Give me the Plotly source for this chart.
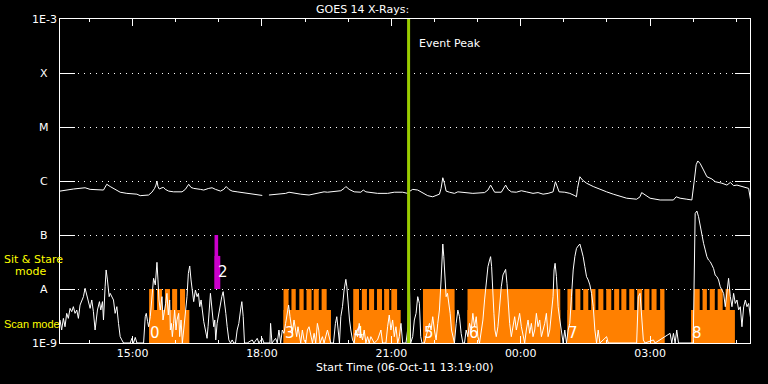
import math
import pandas as pd
import plotly.graph_objects as go

START = "2011-10-06 13:19:00"
END = "2011-10-07 05:19:00"
EVENT_PEAK = "21:24"

# GOES 14 long channel (1-8 A): minutes after start time, flux W/m^2 (None = data gap)
long_min = [0.0, 9.3, 18.6, 34.9, 41.9, 60.5, 65.1, 69.8, 74.4, 79.1, 83.7, 93.0, 107.0, 111.6,
            123.3, 127.9, 131.6, 133.5, 134.9, 136.3, 138.1, 141.9, 144.2, 146.5, 151.2, 158.1,
            169.8, 174.4, 179.1, 182.3, 186.0, 195.3, 200.0, 207.0, 211.6, 216.3, 223.3, 227.9,
            231.2, 234.9, 239.5, 246.5, 253.5, 265.1, 274.4, 281.4, 286.0, 290.7, 302.3, 314.0,
            318.6, 325.6, 334.9, 346.5, 353.5, 360.5, 367.4, 372.1, 381.4, 390.7, 395.3, 397.7,
            402.3, 409.3, 418.6, 421.9, 425.6, 432.6, 441.9, 455.8, 465.1, 476.7, 483.7, 487.0,
            490.7, 497.7, 500.0, 504.7, 511.6, 518.6, 525.6, 527.9, 530.2, 532.6, 534.9, 537.2,
            541.9, 548.8, 553.5, 560.5, 574.4, 590.7, 595.4, 599.1, 602.3, 604.7, 614.0, 617.7,
            620.0, 623.3, 627.9, 634.9, 641.9, 648.8, 658.1, 665.1, 672.1, 679.1, 686.0, 689.3,
            691.6, 694.4, 702.3, 709.3, 716.3, 718.6, 720.0, 723.3, 727.0, 732.6, 741.9, 751.2,
            760.5, 769.8, 779.1, 788.4, 802.3, 807.0, 809.3, 814.0, 821.0, 834.9, 853.5, 857.2,
            862.8, 872.1, 879.1, 882.3, 885.1, 887.4, 890.7, 895.3, 900.0, 907.0, 911.6, 920.9,
            927.9, 932.6, 937.2, 941.9, 948.8, 958.1, 961.9]
long_flux = [6.5e-7, 6.9e-7, 7.1e-7, 7.5e-7, 7.0e-7, 6.8e-7, 8.7e-7, 7.9e-7, 7.3e-7, 6.5e-7, 6.2e-7,
             5.9e-7, 5.7e-7, 5.35e-7, 5.5e-7, 6.2e-7, 7.3e-7, 8.4e-7, 1.0e-6, 7.9e-7, 7.1e-7, 7.5e-7,
             7.6e-7, 7.0e-7, 6.5e-7, 6.3e-7, 6.3e-7, 7.0e-7, 8.7e-7, 7.6e-7, 7.3e-7, 7.0e-7, 6.8e-7,
             7.3e-7, 7.5e-7, 7.0e-7, 6.5e-7, 7.0e-7, 7.9e-7, 7.0e-7, 6.5e-7, 6.3e-7, 6.1e-7, 5.7e-7,
             5.5e-7, 5.4e-7, None, 5.5e-7, 5.7e-7, 5.9e-7, 6.2e-7, 5.9e-7, 5.7e-7, 5.5e-7, 5.7e-7,
             6.1e-7, 6.3e-7, 6.2e-7, 6.3e-7, 6.6e-7, 7.3e-7, 7.9e-7, 7.0e-7, 6.3e-7, 6.2e-7, 6.8e-7,
             6.3e-7, 6.1e-7, 5.9e-7, 5.9e-7, 6.2e-7, 6.2e-7, 5.9e-7, 6.5e-7, 7.0e-7, 6.8e-7, 6.5e-7,
             5.9e-7, 5.35e-7, 5.1e-7, 5.5e-7, 5.7e-7, 7.3e-7, 1.15e-6, 9.1e-7, 6.5e-7, 6.2e-7, 5.9e-7,
             6.3e-7, 6.1e-7, 5.9e-7, 6.1e-7, 6.8e-7, 8.4e-7, 7.0e-7, 6.2e-7, 6.2e-7, 7.3e-7, 8.4e-7,
             7.0e-7, 6.3e-7, 6.2e-7, 6.6e-7, 6.3e-7, 5.9e-7, 6.1e-7, 5.7e-7, 5.9e-7, 6.3e-7, 9.7e-7,
             7.9e-7, 6.3e-7, 6.2e-7, 5.9e-7, 5.35e-7, 5.1e-7, 7.3e-7, 1.2e-6, 1.04e-6, 9.1e-7, 7.9e-7,
             7.0e-7, 6.3e-7, 5.7e-7, 5.3e-7, 4.8e-7, 4.6e-7, 5.1e-7, 6.1e-7, 5.5e-7, 4.8e-7, 4.45e-7,
             4.45e-7, 5.1e-7, 4.8e-7, 4.6e-7, 4.45e-7, 9.7e-7, 2.0e-6, 2.35e-6, 2.1e-6, 1.6e-6, 1.2e-6,
             1.09e-6, 9.7e-7, 9.1e-7, 8.4e-7, 9.4e-7, 8.2e-7, 8.4e-7, 7.9e-7, 7.3e-7, 3.6e-7]

# GOES 14 short channel (0.5-4 A): minutes after start time, flux W/m^2
short_min = [0.0, 2.3, 4.7, 7.0, 9.3, 11.6, 14.0, 16.3, 18.6, 20.9, 23.3, 25.6, 27.9, 30.2, 32.6,
             34.9, 37.2, 39.5, 41.9, 44.2, 46.5, 48.8, 50.2, 52.1, 54.9, 56.7, 59.1, 60.5, 62.8,
             64.2, 66.0, 68.4, 69.8, 72.1, 74.4, 76.7, 79.1, 81.4, 83.7, 86.0, 88.4, 97.7, 100.0,
             102.3, 104.7, 107.0, 116.3, 118.6, 120.0, 121.9, 123.3, 125.6, 127.9, 130.2, 132.6,
             134.9, 136.3, 137.7, 139.5, 141.9, 143.3, 145.1, 147.0, 148.8, 150.7, 152.6, 153.5,
             154.9, 156.3, 158.1, 159.5, 161.4, 162.8, 165.1, 166.5, 168.4, 170.2, 172.1, 174.4,
             176.7, 178.6, 180.5, 182.3, 184.2, 186.0, 188.4, 190.7, 192.6, 194.4, 196.3, 198.1,
             200.0, 202.3, 204.6, 206.0, 207.9, 209.3, 211.6, 213.9, 215.3, 216.7, 218.6, 220.9,
             223.2, 225.1, 227.0, 228.8, 230.7, 232.6, 234.9, 237.2, 239.5, 241.9, 244.2, 246.5,
             248.8, 251.2, 253.0, 254.9, 256.7, 260.5, 267.4, 269.8, 274.4, 276.7, 281.4, 283.7,
             292.1, 293.0, 294.9, 300.0, 302.3, 304.6, 307.0, 309.3, 311.6, 313.9, 316.3, 318.1,
             320.0, 321.8, 323.2, 325.6, 327.4, 329.3, 331.1, 333.0, 334.9, 337.2, 339.5, 341.9,
             344.2, 346.5, 348.8, 351.2, 353.5, 355.8, 358.1, 360.0, 361.8, 365.1, 367.4, 372.1,
             376.7, 380.5, 383.2, 385.1, 387.0, 388.8, 390.7, 393.0, 395.3, 397.7, 399.1, 400.9,
             402.8, 404.6, 407.0, 409.3, 411.6, 413.9, 416.3, 418.6, 420.9, 423.2, 425.6, 427.9,
             430.2, 432.5, 437.2, 441.8, 446.5, 448.8, 453.5, 455.8, 458.1, 460.4, 462.8, 465.1,
             467.4, 469.8, 472.1, 474.4, 476.7, 479.1, 481.4, 484.2, 486.1, 487.9, 490.7, 493.0,
             495.4, 497.7, 500.0, 501.9, 503.7, 507.0, 509.3, 511.6, 514.0, 516.3, 518.6, 520.9,
             523.3, 525.6, 527.9, 530.2, 531.6, 532.6, 534.0, 535.8, 537.2, 539.1, 540.9, 542.8,
             544.7, 546.5, 548.8, 551.2, 553.5, 555.8, 558.1, 560.5, 562.8, 565.1, 567.4, 569.8,
             572.1, 574.4, 576.7, 579.1, 581.4, 583.7, 586.0, 588.4, 590.7, 593.0, 595.4, 597.7,
             599.1, 600.5, 602.3, 603.7, 605.1, 607.0, 609.3, 611.6, 614.0, 616.3, 618.6, 620.0,
             621.9, 623.7, 625.6, 627.9, 630.2, 632.6, 634.9, 637.2, 639.5, 641.9, 644.2, 646.5,
             648.8, 651.2, 653.5, 655.8, 658.1, 660.5, 662.8, 665.1, 667.4, 669.8, 672.1, 674.4,
             676.7, 679.1, 681.4, 683.7, 686.0, 687.4, 688.8, 690.7, 693.0, 695.4, 697.7, 700.0,
             702.3, 704.7, 707.0, 709.3, 711.6, 714.0, 716.3, 718.6, 720.9, 723.3, 725.6, 727.9,
             730.2, 732.6, 734.9, 737.2, 739.5, 741.9, 744.2, 746.5, 748.8, 751.2, 760.5, 762.8,
             802.3, 804.6, 807.0, 809.3, 811.6, 813.9, 825.6, 827.9, 848.8, 851.2, 853.5, 855.8,
             858.1, 860.5, 881.0, 883.7, 886.1, 888.4, 890.7, 893.0, 895.4, 897.7, 900.0, 902.3,
             904.7, 907.0, 909.3, 911.6, 914.0, 916.3, 918.6, 920.9, 923.3, 925.6, 927.9, 930.2,
             932.6, 934.9, 937.2, 939.5, 941.9, 944.2, 946.5, 948.8, 951.2, 953.5, 955.8, 958.1,
             960.5, 961.9]
short_flux = [2.67e-9, 1.74e-9, 2.86e-9, 2.0e-9, 3.54e-9, 2.86e-9, 4.38e-9, 3.8e-9, 4.71e-9, 3.54e-9,
              4.08e-9, 2.86e-9, 5.05e-9, 5.83e-9, 7.21e-9, 1.03e-8, 7.74e-9, 5.83e-9, 4.38e-9, 6.26e-9,
              3.8e-9, 1.74e-9, 2.67e-9, 4.08e-9, 5.83e-9, 4.08e-9, 5.83e-9, 2.67e-9, 1.1e-8, 2.25e-8,
              1.47e-8, 7.21e-9, 8.31e-9, 7.21e-9, 6.26e-9, 3.54e-9, 4.71e-9, 2.31e-9, 1.31e-9, 1.14e-9,
              1e-9, 1e-9, 1.22e-9, 1e-9, 1.27e-9, 1e-9, 1e-9, 3.07e-9, 3.54e-9, 2.48e-9, 2.0e-9,
              3.07e-9, 7.21e-9, 1.58e-8, 1.19e-8, 3.12e-8, 1.47e-8, 6.26e-9, 4.08e-9, 7.21e-9, 2.67e-9,
              3.54e-9, 5.43e-9, 8.31e-9, 3.3e-9, 6.26e-9, 1.74e-9, 2.31e-9, 1.31e-9, 2.31e-9, 4.08e-9,
              1.74e-9, 2.67e-9, 3.54e-9, 1.31e-9, 2.67e-9, 1e-9, 1.74e-9, 3.54e-9, 7.21e-9, 1.95e-8,
              2.67e-8, 1.47e-8, 9.58e-9, 5.83e-9, 9.58e-9, 7.21e-9, 8.31e-9, 4.71e-9, 6.26e-9, 3.54e-9,
              2.48e-9, 1.74e-9, 1.22e-9, 2.0e-9, 4.71e-9, 8.31e-9, 4.08e-9, 2.0e-9, 2.67e-9, 1.14e-9,
              2.31e-9, 3.54e-9, 4.71e-9, 7.21e-9, 8.93e-9, 6.26e-9, 3.54e-9, 2.0e-9, 1.14e-9, 1e-9,
              1.14e-9, 1e-9, 1e-9, 1.74e-9, 2.31e-9, 4.08e-9, 5.83e-9, 3.07e-9, 1e-9, 1e-9, 1.14e-9,
              1e-9, 1.22e-9, 1e-9, 1.22e-9, 1e-9, 1e-9, 2.31e-9, 1e-9, 1.22e-9, 1e-9, 1.74e-9, 1e-9,
              1.74e-9, 1.51e-9, 2.31e-9, 3.54e-9, 5.05e-9, 3.07e-9, 2.0e-9, 1.51e-9, 2.67e-9, 1.86e-9,
              1.31e-9, 2.0e-9, 1.51e-9, 1e-9, 1.74e-9, 1.14e-9, 1e-9, 1.74e-9, 2.0e-9, 1.31e-9, 1e-9,
              1.51e-9, 1e-9, 2.31e-9, 1.74e-9, 1e-9, 1.31e-9, 1e-9, 1.74e-9, 1e-9, 1e-9, 2.31e-9,
              3.07e-9, 1.74e-9, 1e-9, 3.07e-9, 4.71e-9, 9.58e-9, 1.51e-8, 1.1e-8, 4.71e-9, 2.67e-9,
              1.74e-9, 1.14e-9, 1e-9, 1.74e-9, 1.31e-9, 2.31e-9, 1.51e-9, 1.14e-9, 1.74e-9, 1e-9,
              1.31e-9, 1e-9, 1.31e-9, 1e-9, 1.14e-9, 1.74e-9, 1e-9, 1e-9, 2.0e-9, 3.3e-9, 1.74e-9,
              2.67e-9, 1.31e-9, 2.0e-9, 1e-9, 1.31e-9, 2.31e-9, 1e-9, 1e-9, 1e-9, 2.0e-9, 1.27e-8,
              1e-9, 1.31e-9, 2.67e-9, 3.54e-9, 7.21e-9, 5.43e-9, 1.31e-9, 1e-9, 1e-9, 1.31e-9, 1.74e-9,
              2.31e-9, 1.74e-9, 3.07e-9, 1.74e-9, 1.14e-9, 2.31e-9, 4.08e-9, 1.47e-8, 5.27e-8, 6.81e-8,
              3.97e-8, 1.47e-8, 7.21e-9, 8.31e-9, 5.83e-9, 3.54e-9, 1.74e-9, 1.31e-9, 1e-9, 2.31e-9,
              4.08e-9, 3.07e-9, 1.51e-9, 1e-9, 1e-9, 1.74e-9, 1.31e-9, 2.31e-9, 1.74e-9, 3.54e-9,
              2.0e-9, 3.07e-9, 1.31e-9, 1e-9, 1.74e-9, 2.67e-9, 6.26e-9, 1.47e-8, 2.59e-8, 3.44e-8,
              3.97e-8, 2.59e-8, 1.1e-8, 3.54e-9, 1.74e-9, 1.31e-9, 2.0e-9, 4.71e-9, 1.1e-8, 1.82e-8,
              2.09e-8, 2.31e-8, 1.27e-8, 5.43e-9, 2.31e-9, 1.31e-9, 2.0e-9, 3.07e-9, 1.74e-9, 2.67e-9,
              3.54e-9, 2.0e-9, 1.31e-9, 1e-9, 1.74e-9, 2.67e-9, 1.51e-9, 2.31e-9, 1.31e-9, 1.74e-9,
              3.54e-9, 2.0e-9, 2.67e-9, 1.31e-9, 1.74e-9, 2.31e-9, 3.54e-9, 1.31e-9, 1.74e-9, 3.54e-9,
              7.21e-9, 2.25e-8, 2.99e-8, 1.69e-8, 4.71e-9, 2.67e-9, 1.74e-9, 1e-9, 1.74e-9, 1e-9,
              1.74e-9, 2.31e-9, 7.21e-9, 2.25e-8, 3.97e-8, 5.66e-8, 6.25e-8, 6.81e-8, 5.27e-8, 3.97e-8,
              2.59e-8, 1.69e-8, 1.47e-8, 1.19e-8, 8.31e-9, 4.71e-9, 1.74e-9, 1e-9, 1.74e-9, 1e-9,
              1.31e-9, 1e-9, 1e-9, 7.21e-9, 8.31e-9, 3.54e-9, 1.14e-9, 1e-9, 1.14e-9, 1e-9, 1.51e-9,
              1e-9, 1.51e-9, 1e-9, 1.74e-9, 1e-9, 1e-9, 2.5e-7, 2.78e-7, 2.18e-7, 1.43e-7, 9.3e-8,
              7.0e-8, 5.3e-8, 3.97e-8, 3.44e-8, 3.2e-8, 2.78e-8, 2.4e-8, 1.8e-8, 1.69e-8, 1.47e-8,
              1.1e-8, 9.6e-9, 8.3e-9, 4.7e-9, 9.6e-9, 1.58e-8, 7.2e-9, 4.7e-9, 8.3e-9, 5.4e-9, 6.25e-9,
              4.1e-9, 4.7e-9, 2.0e-9, 4.7e-9, 6.25e-9, 4.7e-9, 5.4e-9, 3.07e-9, 2.3e-9]

# Scan mode: study intervals and individual raster intervals (clock times)
scan_studies = [("15:23", "16:19"), ("18:30", "19:36"), ("20:07", "21:13"), ("21:44", "22:28"),
                ("22:46", "00:55"), ("01:05", "03:20"), ("03:57", "04:58")]
scan_rasters = [("15:23", "15:30"), ("15:34", "15:41"), ("15:45", "15:52"), ("15:55", "16:02"),
                ("16:06", "16:13"),
                ("18:30", "18:37"), ("18:41", "18:47"), ("18:52", "18:58"), ("19:02", "19:09"),
                ("19:12", "19:19"), ("19:23", "19:30"),
                ("20:07", "20:15"), ("20:19", "20:26"), ("20:29", "20:36"), ("20:40", "20:47"),
                ("20:50", "20:57"), ("21:00", "21:08"),
                ("21:44", "22:28"), ("22:46", "00:55"),
                ("01:05", "01:12"), ("01:16", "01:23"), ("01:27", "01:34"), ("01:38", "01:44"),
                ("01:48", "01:55"), ("01:59", "02:06"), ("02:10", "02:17"), ("02:20", "02:27"),
                ("02:31", "02:38"), ("02:42", "02:49"), ("02:52", "02:59"), ("03:02", "03:09"),
                ("03:14", "03:20"),
                ("04:01", "04:09"), ("04:13", "04:19"), ("04:23", "04:30"), ("04:34", "04:41"),
                ("04:45", "04:51")]
# Sit & Stare mode
sit_studies = [("16:54", "17:02")]
sit_rasters = [("16:54", "16:59")]

scan_band = (1e-9, 1e-8, 4.1e-9)   # bottom, top, study-bar top
sit_band = (1e-8, 1e-7, 4.1e-8)

obs_labels = ["0", "2", "3", "4", "5", "6", "7", "8"]
obs_label_times = ["15:23", "16:58", "18:30", "20:07", "21:44", "22:46", "01:05", "03:57"]
obs_label_flux = [1.56e-9, 2.07e-8, 1.56e-9, 1.56e-9, 1.56e-9, 1.56e-9, 1.56e-9, 1.56e-9]

ylevels = [1e-9, 1e-8, 1e-7, 1e-6, 1e-5, 1e-4, 1e-3]
ylabels = ["1E-9", "A", "B", "C", "M", "X", "1E-3"]

FONT = "DejaVu Sans"
start_ts = pd.Timestamp(START)


def clock(s):
    h = int(s.split(":")[0])
    day = "2011-10-07" if h < 12 else "2011-10-06"
    return f"{day} {s}:00"


def rects(intervals, lo, hi):
    xs, ys = [], []
    for a, b in intervals:
        t0, t1 = clock(a), clock(b)
        xs += [t0, t0, t1, t1, t0, None]
        ys += [lo, hi, hi, lo, lo, None]
    return xs, ys


def mins_to_time(ms):
    return [(start_ts + pd.Timedelta(minutes=m)).strftime("%Y-%m-%d %H:%M:%S") for m in ms]


fig = go.Figure()

ORANGE = "#ff8000"
MAGENTA = "#cc00cc"
layers = [(scan_studies, scan_band[0], scan_band[2], ORANGE),
          (scan_rasters, scan_band[0], scan_band[1], ORANGE),
          (sit_studies, sit_band[0], sit_band[2], MAGENTA),
          (sit_rasters, sit_band[0], sit_band[1], MAGENTA)]
for intervals, lo, hi, col in layers:
    xs, ys = rects(intervals, lo, hi)
    fig.add_trace(go.Scatter(x=xs, y=ys, mode="lines", fill="toself", fillcolor=col,
                             line=dict(width=0, color=col), hoverinfo="skip", showlegend=False))

fig.add_trace(go.Scatter(x=mins_to_time(long_min), y=long_flux, mode="lines",
                         line=dict(color="white", width=1), showlegend=False))
fig.add_trace(go.Scatter(x=mins_to_time(short_min), y=short_flux, mode="lines",
                         line=dict(color="white", width=1), showlegend=False))
fig.add_trace(go.Scatter(x=[clock(EVENT_PEAK), clock(EVENT_PEAK)], y=[1e-9, 1e-3], mode="lines",
                         line=dict(color="#99cc00", width=3), showlegend=False))

ann = []
for t, f, lab in zip(obs_label_times, obs_label_flux, obs_labels):
    ann.append(dict(x=clock(t), y=math.log10(f), xref="x", yref="y", text=lab, showarrow=False,
                    xanchor="left", yanchor="middle", xshift=-1,
                    font=dict(family=FONT, size=15, color="white")))
for v, lab in zip(ylevels, ylabels):
    ann.append(dict(x=-16 / 690, y=math.log10(v), xref="paper", yref="y", text=lab, showarrow=False,
                    xanchor="center", yanchor="middle", font=dict(family=FONT, size=11, color="white")))
ann.append(dict(x=clock(EVENT_PEAK), y=(343 - 43) / 324, xref="x", yref="paper", text="Event Peak",
                showarrow=False, xanchor="left", yanchor="middle", xshift=8,
                font=dict(family=FONT, size=11, color="white")))
ann.append(dict(x=(362 - 60) / 690, y=(343 - 9) / 324, xref="paper", yref="paper",
                text="GOES 14 X-Rays:", showarrow=False, xanchor="center", yanchor="middle",
                font=dict(family=FONT, size=11, color="white")))
ann.append(dict(x=0.5, y=(343 - 368) / 324, xref="paper", yref="paper",
                text="Start Time (06-Oct-11 13:19:00)", showarrow=False, xanchor="center",
                yanchor="middle", font=dict(family=FONT, size=11, color="white")))
for txt, px, py, fam in [("Sit &amp; Stare", 2, 259, FONT), ("mode", 13, 271, FONT),
                         ("Scan mode", 2, 324, "Liberation Sans")]:
    ann.append(dict(x=(px - 60) / 690, y=(343 - py) / 324, xref="paper", yref="paper", text=txt,
                    showarrow=False, xanchor="left", yanchor="middle",
                    font=dict(family=fam, size=11, color="#ffff00")))

fig.update_layout(
    width=768, height=384,
    margin=dict(l=60, r=18, t=19, b=41, autoexpand=False),
    paper_bgcolor="black", plot_bgcolor="black",
    annotations=ann,
    showlegend=False,
    xaxis=dict(type="date", range=[START, END], showgrid=False, zeroline=False,
               showline=True, linecolor="white", linewidth=1, mirror="ticks",
               ticks="inside", ticklen=7, tickcolor="white", tickwidth=1,
               tick0="2011-10-06 00:00:00", dtick=3 * 3600000, tickformat="%H:%M",
               tickfont=dict(family=FONT, size=11, color="white"),
               minor=dict(dtick=3600000, ticks="inside", ticklen=3, tickcolor="white",
                          showgrid=False)),
    yaxis=dict(type="log", range=[-9, -3], dtick=1, tick0=0, showticklabels=False,
               showline=True, linecolor="white", linewidth=1, mirror="ticks",
               ticks="inside", ticklen=15, tickcolor="white", tickwidth=1,
               showgrid=True, gridcolor="white", gridwidth=1, griddash="1px,5px",
               zeroline=False),
)

fig.write_html("out.html", config={"displayModeBar": False},
               post_script="document.body.style.margin='0';document.body.style.padding='0';"
                           "document.body.style.background='black';"
                           "document.body.style.overflow='hidden';")
